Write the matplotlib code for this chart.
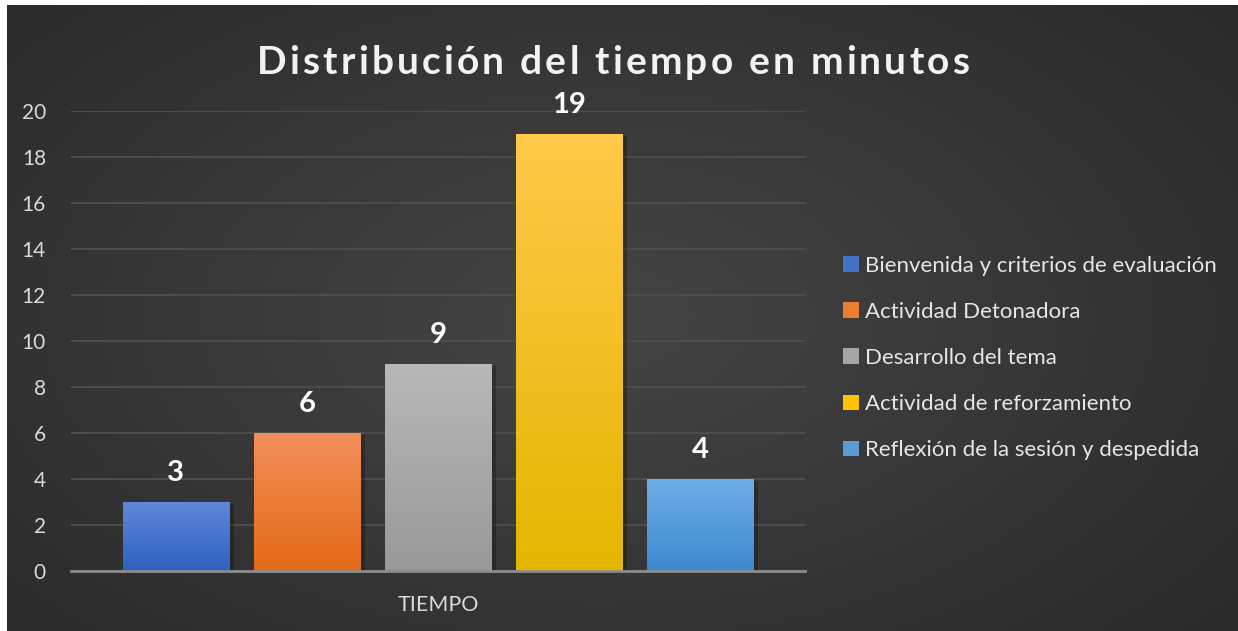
import numpy as np
import matplotlib.pyplot as plt
from matplotlib.patches import Patch, Rectangle
import matplotlib.colors as mcolors

# data
category = "TIEMPO"
series = ["Bienvenida y criterios de evaluación", "Actividad Detonadora",
          "Desarrollo del tema", "Actividad de reforzamiento",
          "Reflexión de la sesión y despedida"]
values = [3, 6, 9, 19, 4]
top_colors = ["#5f88d8", "#f28f5a", "#b8b8b8", "#ffc94a", "#6eaee6"]
bottom_colors = ["#2e60be", "#e46a16", "#999999", "#e4b600", "#3d89cf"]
legend_colors = ["#4472c4", "#ed7d31", "#a5a5a5", "#ffc000", "#5b9bd5"]
title = "Distribución del tiempo en minutos"

plt.rcParams['font.family'] = ['Lato', 'DejaVu Sans']
W, H = 1238, 631
fig = plt.figure(figsize=(W / 100, H / 100), dpi=100, facecolor="white")

# dark radial background (white strip left and top)
bg = fig.add_axes([7 / W, 0, 1 - 7 / W, 1 - 5 / H])
bg.set_axis_off()
yy, xx = np.mgrid[0:1:300j, 0:1:600j]
r = np.sqrt(((xx - 0.48) / 0.75) ** 2 + ((yy - 0.5) / 0.85) ** 2)
r = np.clip(r, 0, 1)
c0 = np.array(mcolors.to_rgb("#454545"))
c1 = np.array(mcolors.to_rgb("#272727"))
img = c0[None, None, :] * (1 - r[..., None]) + c1[None, None, :] * r[..., None]
bg.imshow(img, aspect="auto", extent=[0, 1, 0, 1])
bg.set_xlim(0, 1)
bg.set_ylim(0, 1)

ax = fig.add_axes([71 / W, (H - 571) / H, (805 - 71) / W, (571 - 111) / H])
ax.patch.set_alpha(0)
x = np.arange(len(values))
width = 106 / 131
bars = ax.bar(x, values, width=width, color=legend_colors, zorder=3)

for b, v, ct, cb in zip(bars, values, top_colors, bottom_colors):
    # soft shadow
    sh = Rectangle((b.get_x() + 0.04, 0), b.get_width(), v - 0.1,
                   color="black", alpha=0.25, zorder=2, lw=0)
    ax.add_patch(sh)
    grad = np.linspace(0, 1, 100)[:, None]
    ct_, cb_ = np.array(mcolors.to_rgb(ct)), np.array(mcolors.to_rgb(cb))
    g = ct_[None, None, :] * (1 - grad[..., None]) + cb_[None, None, :] * grad[..., None]
    g = np.repeat(g, 2, axis=1)
    im = ax.imshow(g, aspect="auto", zorder=4,
                   extent=[b.get_x(), b.get_x() + b.get_width(), 0, v])
    im.set_clip_path(b)
    ax.text(b.get_x() + b.get_width() / 2, v + 1.25, str(v), ha="center",
            va="center", color="white", fontsize=21, fontweight="bold", zorder=5)

ax.set_xlim(-0.8, 4.8)
ax.set_ylim(0, 20)
ax.set_yticks(range(0, 21, 2))
ax.set_xticks([2])
ax.set_xticklabels([category])
ax.tick_params(axis="y", length=0, pad=18, labelsize=15, labelcolor="#d9d9d9")
ax.tick_params(axis="x", length=0, pad=17, labelsize=15.5, labelcolor="#d9d9d9")
ax.grid(axis="y", color="#4d4d4d", lw=1.4, zorder=0)
for s in ["top", "right", "left"]:
    ax.spines[s].set_visible(False)
ax.spines["bottom"].set_color("#8c8c8c")
ax.spines["bottom"].set_linewidth(2)
ax.spines["bottom"].set_zorder(6)

# title with letter spacing, drawn char by char
renderer = fig.canvas.get_renderer()
spacing = 3.2
tprops = dict(color="#f2f2f2", fontsize=28, fontweight="bold", va="center", ha="left")
widths = []
for ch in title:
    t = fig.text(0, 0, ch if ch != " " else "a a", **tprops)
    w = t.get_window_extent(renderer).width
    if ch == " ":
        w2 = fig.text(0, 0, "aa", **tprops)
        w = w - w2.get_window_extent(renderer).width
        w2.remove()
    t.remove()
    widths.append(w)
total = sum(widths) + spacing * (len(title) - 1)
xpos = 613 - total / 2
for ch, w in zip(title, widths):
    if ch != " ":
        fig.text(xpos / W, (H - 62) / H, ch, **tprops)
    xpos += w + spacing

handles = [Patch(facecolor=c) for c in legend_colors]
fig.legend(handles, series, loc="center left",
           bbox_to_anchor=(843 / W, (H - 358) / H), frameon=False,
           fontsize=16, labelcolor="#e6e6e6", labelspacing=1.18,
           handlelength=0.7, handleheight=0.7, handletextpad=0.3,
           borderpad=0, borderaxespad=0)

fig.savefig("out.png", dpi=100, facecolor="white")
